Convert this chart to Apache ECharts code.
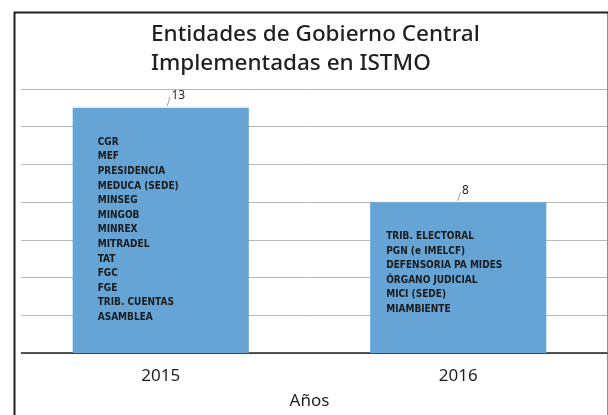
<!DOCTYPE html>
<html>
<head>
<meta charset="utf-8">
<script src="https://cdn.jsdelivr.net/npm/echarts@6/dist/echarts.min.js"></script>
<style>
  html, body { margin: 0; padding: 0; background: #fff; }
  #chart { width: 608px; height: 415px; }
</style>
</head>
<body>
<div id="chart"></div>
<script>
var years = ['2015', '2016']
var counts = [13, 8]
var entities2015 = ['CGR', 'MEF', 'PRESIDENCIA', 'MEDUCA (SEDE)', 'MINSEG', 'MINGOB', 'MINREX',
  'MITRADEL', 'TAT', 'FGC', 'FGE', 'TRIB. CUENTAS', 'ASAMBLEA']
var entities2016 = ['TRIB. ELECTORAL', 'PGN (e IMELCF)', 'DEFENSORIA PA MIDES', 'ÓRGANO JUDICIAL',
  'MICI (SEDE)', 'MIAMBIENTE']
var yTicks = [0, 2, 4, 6, 8, 10, 12, 14]

var lists = [entities2015, entities2016]
var listOffsets = [[20, 22], [11, 22]] // text placement inside each bar
var valueOffsets = [[6, 0], [-1, 0]]   // value labels sit a little right of centre

var chart = echarts.init(document.getElementById('chart'))

chart.setOption({
  animation: false,
  title: {
    text: 'Entidades de Gobierno Central\nImplementadas en ISTMO',
    left: 146,
    top: 15,
    textStyle: {
      fontFamily: 'Noto Sans',
      fontSize: 22.5,
      fontWeight: 500,
      color: '#231f20',
      lineHeight: 29
    }
  },
  graphic: [{
    // the plot lines stop short of the frame on the left
    type: 'rect',
    left: 6,
    top: 84,
    z: 50,
    shape: { width: 15, height: 275 },
    style: { fill: '#fff' }
  }, {
    type: 'rect',
    left: 12,
    top: 10,
    z: 60,
    shape: { width: 594, height: 430 },
    style: { fill: 'none', stroke: '#231f20', lineWidth: 2 }
  }],
  grid: {
    left: 12,
    right: 1,
    top: 89,
    bottom: 62
  },
  xAxis: {
    type: 'category',
    data: years,
    name: 'Años',
    nameLocation: 'middle',
    nameGap: 40,
    nameTextStyle: { fontFamily: 'Noto Sans', fontSize: 17, color: '#231f20' },
    axisTick: { show: false },
    axisLine: { lineStyle: { color: '#231f20', width: 1.5 } },
    axisLabel: { fontFamily: 'Noto Sans', fontSize: 17, color: '#231f20', margin: 15 }
  },
  yAxis: {
    type: 'value',
    min: yTicks[0],
    max: yTicks[yTicks.length - 1],
    interval: 2,
    axisLabel: { show: false },
    axisLine: { show: false },
    axisTick: { show: false },
    splitLine: { lineStyle: { color: '#b8b8b8', width: 1 } }
  },
  series: [{
    type: 'bar',
    barWidth: '59.2%',
    itemStyle: { color: '#65a4d4' },
    data: counts.map(function (v, i) {
      return { value: v, label: { offset: valueOffsets[i] } }
    }),
    label: {
      show: true,
      position: 'top',
      distance: 0,
      align: 'left',
      formatter: '{s|/}{v|{c}}',
      rich: {
        s: { fontFamily: 'DejaVu Sans', fontSize: 11, color: '#999', verticalAlign: 'bottom', padding: [0, 1, 0, 0] },
        v: { fontFamily: 'Noto Sans', fontSize: 12, color: '#231f20', padding: [0, 0, 6, 0] }
      }
    }
  }, {
    type: 'bar',
    barGap: '-100%',
    barWidth: '59.2%',
    itemStyle: { color: 'transparent' },
    silent: true,
    data: counts.map(function (v, i) {
      return {
        value: v,
        label: {
          show: true,
          position: 'insideTopLeft',
          offset: listOffsets[i],
          formatter: lists[i].join('\n')
        }
      }
    }),
    label: {
      fontFamily: 'DejaVu Sans Condensed',
      fontWeight: 'bold',
      fontSize: 10,
      lineHeight: 14.6,
      color: '#1a1a1a'
    }
  }]
})
</script>
</body>
</html>
